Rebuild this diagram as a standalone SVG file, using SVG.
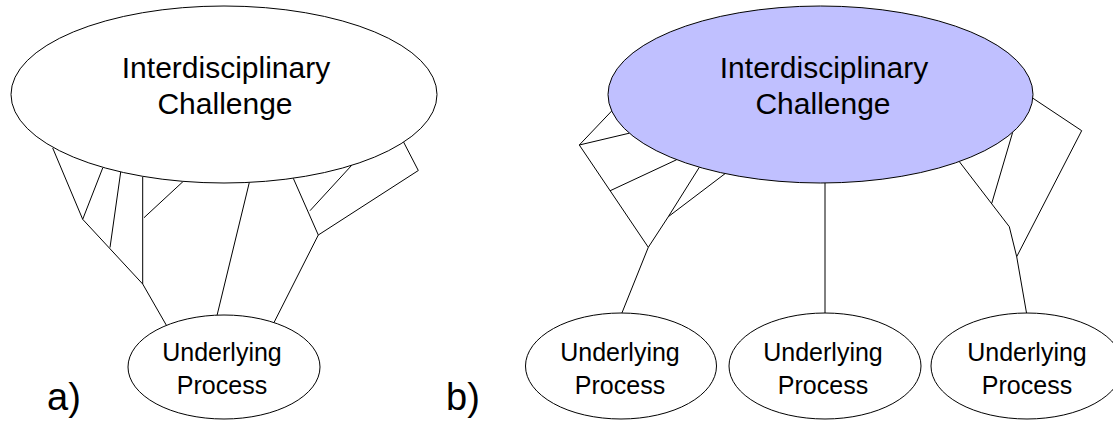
<svg xmlns="http://www.w3.org/2000/svg" width="1113" height="421" viewBox="0 0 1113 421">
  <style>
    .bg { fill: #ffffff; }
    .node { stroke: #000000; stroke-width: 1; }
    .plain { fill: #ffffff; }
    .focus { fill: #c0c0ff; }
    .big { font-family: "Liberation Sans", Arial, sans-serif; font-size: 30px; fill: #000000; text-anchor: middle; }
    .small { font-family: "Liberation Sans", Arial, sans-serif; font-size: 25px; fill: #000000; text-anchor: middle; }
    .tag { font-family: "Liberation Sans", Arial, sans-serif; font-size: 38px; fill: #000000; }
    .links line { stroke: #000000; stroke-width: 1; fill: none; }
  </style>

  <rect class="bg" x="0" y="0" width="1113" height="421"/>

  <!-- branching paths between challenge and processes -->
  <g id="connectors" class="links">
    <!-- panel a: every branch converges on a single process -->
    <line x1="52.7" y1="148" x2="82.7" y2="219.3"/>
    <line x1="102.7" y1="168" x2="82.7" y2="219.3"/>
    <line x1="82.7" y1="219.3" x2="142.7" y2="284"/>
    <line x1="120.7" y1="172" x2="110" y2="247.5"/>
    <line x1="142.7" y1="176.5" x2="142.7" y2="284"/>
    <line x1="183.3" y1="181.3" x2="144" y2="217.7"/>
    <line x1="142.7" y1="284" x2="166.5" y2="325.5"/>
    <line x1="249.3" y1="182.5" x2="217" y2="315.5"/>
    <line x1="293.3" y1="178.3" x2="318.3" y2="235"/>
    <line x1="351.7" y1="165.3" x2="310" y2="210.7"/>
    <line x1="403.3" y1="141.5" x2="418.3" y2="170.5"/>
    <line x1="418.3" y1="170.5" x2="318.3" y2="235"/>
    <line x1="318.3" y1="235" x2="274" y2="322.5"/>

    <!-- panel b: left branch -->
    <line x1="611.7" y1="111" x2="579.3" y2="145"/>
    <line x1="629.3" y1="133.2" x2="579.3" y2="145"/>
    <line x1="579.3" y1="145" x2="648.3" y2="247.3"/>
    <line x1="676.7" y1="159.7" x2="610" y2="190.8"/>
    <line x1="699.3" y1="167.3" x2="668.3" y2="216.7"/>
    <line x1="725" y1="173.7" x2="668.3" y2="216.7"/>
    <line x1="668.3" y1="216.7" x2="648.3" y2="247.3"/>
    <line x1="648.3" y1="247.3" x2="621.5" y2="314"/>

    <!-- panel b: direct middle link -->
    <line x1="825" y1="183" x2="825" y2="314"/>

    <!-- panel b: right branch -->
    <line x1="1033" y1="98.3" x2="1081.7" y2="130.7"/>
    <line x1="1081.7" y1="130.7" x2="1016.7" y2="256.7"/>
    <line x1="959.3" y1="161.6" x2="1009.3" y2="226.7"/>
    <line x1="1012.7" y1="132.2" x2="991.7" y2="203.5"/>
    <line x1="1009.3" y1="226.7" x2="1016.7" y2="256.7"/>
    <line x1="1016.7" y1="256.7" x2="1026.7" y2="314"/>
  </g>

  <!-- panel a nodes -->
  <g id="challenge-a">
    <ellipse class="node plain" cx="224" cy="94.5" rx="213" ry="88.5"/>
    <text class="big" x="226" y="78">Interdisciplinary</text>
    <text class="big" x="225" y="114">Challenge</text>
  </g>
  <g id="process-a">
    <ellipse class="node plain" cx="224" cy="367" rx="96" ry="52"/>
    <text class="small" x="222" y="361">Underlying</text>
    <text class="small" x="222" y="394">Process</text>
  </g>

  <!-- panel b nodes -->
  <g id="challenge-b">
    <ellipse class="node focus" cx="820.5" cy="94.5" rx="212.5" ry="88.5"/>
    <text class="big" x="824" y="78">Interdisciplinary</text>
    <text class="big" x="823" y="114">Challenge</text>
  </g>
  <g id="process-b1">
    <ellipse class="node plain" cx="621" cy="366" rx="95.5" ry="53"/>
    <text class="small" x="620" y="361">Underlying</text>
    <text class="small" x="620" y="394">Process</text>
  </g>
  <g id="process-b2">
    <ellipse class="node plain" cx="825" cy="366" rx="96" ry="53"/>
    <text class="small" x="823" y="361">Underlying</text>
    <text class="small" x="823" y="394">Process</text>
  </g>
  <g id="process-b3">
    <ellipse class="node plain" cx="1027" cy="366" rx="96" ry="53"/>
    <text class="small" x="1027" y="361">Underlying</text>
    <text class="small" x="1027" y="394">Process</text>
  </g>

  <!-- panel labels -->
  <g id="labels">
    <text class="tag" x="47" y="410">a)</text>
    <text class="tag" x="446" y="410">b)</text>
  </g>
</svg>
